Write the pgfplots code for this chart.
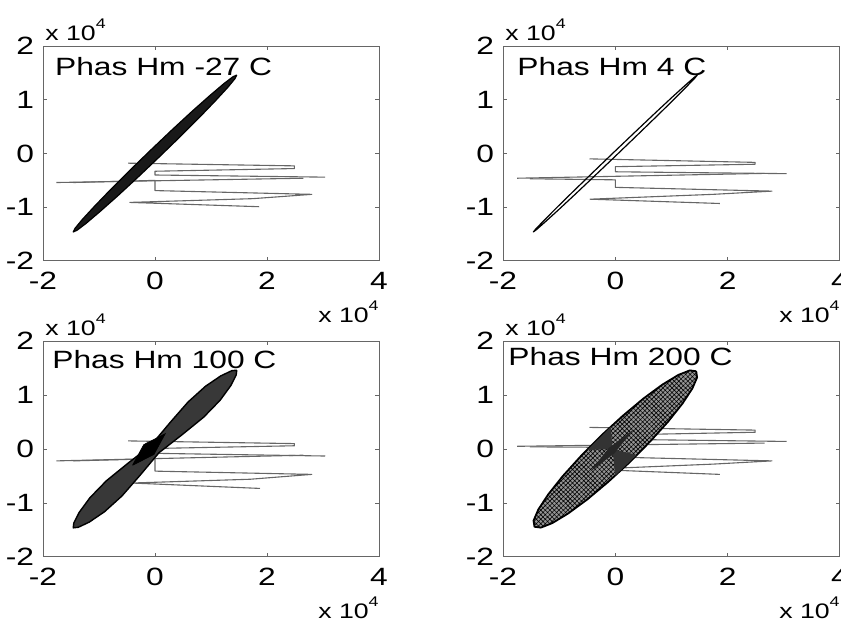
\documentclass[border=0pt]{standalone}
\usepackage{fontspec}
\setmainfont{Liberation Sans}[FakeStretch=1.27]
\usepackage{pgfplots}
\pgfplotsset{compat=1.18}
\usetikzlibrary{patterns.meta}
\pgfplotsset{
  mat/.style={
    scale only axis, width=168pt, height=107.5pt, anchor=south west,
    xmin=-2,xmax=4,ymin=-2,ymax=2,
    xtick={-2,0,2,4}, xticklabels={-2,0,2,4},
    ytick={-2,-1,0,1,2}, yticklabels={-2,-1,0,1,2},
    tick align=inside, major tick length=2pt,
    axis line style={black!60, line width=0.5pt},
    every tick/.style={black!60, line width=0.5pt},
    tick label style={font=\fontsize{12.5}{14}\selectfont, inner sep=0pt},
    xticklabel style={yshift=-5.5pt},
    yticklabel style={xshift=-4.25pt},
    clip=false,
  },
  lines/.style={black!60, line width=0.55pt, line join=round},
}
\newcommand{\xmult}{\node[anchor=base east, inner sep=0pt, font=\fontsize{10.5}{12}\selectfont] at (rel axis cs:1,0) [yshift=-30.75pt] {x 10\raisebox{6pt}{\fontsize{7}{8}\selectfont 4}};}
\newcommand{\ymult}{\node[anchor=base west, inner sep=0pt, font=\fontsize{10.5}{12}\selectfont] at (rel axis cs:0,1) [xshift=1pt, yshift=3pt] {x 10\raisebox{6pt}{\fontsize{7}{8}\selectfont 4}};}
\newcommand{\ttl}[3]{\node[anchor=base west, inner sep=0pt, font=\fontsize{12.5}{14}\selectfont] at (axis cs:#1,#2) {#3};}
\begin{document}
\begin{tikzpicture}
\useasboundingbox (0,0) rectangle (420.5pt,310.5pt);
% ---------- A : -27 C
\begin{axis}[mat, at={(21.5pt,180pt)}]
\addplot[lines] coordinates {(-0.48,-0.18) (2.49,-0.23) (2.49,-0.28) (0,-0.33) (0,-0.40) (3.04,-0.44)};
\addplot[lines] coordinates {(-1.76,-0.54) (2.65,-0.46)};
\addplot[lines] coordinates {(-1.46,-0.54) (0,-0.50) (0,-0.69) (2.80,-0.76) (1.75,-0.84) (-0.45,-0.91) (1.86,-0.99)};
\addplot[fill=black!90, draw=black, line width=0.6pt, line join=round] coordinates {
(1.46,1.46) (1.392,1.428) (1.229,1.299) (0.983,1.081) (0.669,0.791) (0.310,0.446) (-0.070,0.070) (-0.446,-0.310) (-0.791,-0.669) (-1.081,-0.983) (-1.299,-1.229) (-1.428,-1.392) (-1.46,-1.46) (-1.392,-1.428) (-1.229,-1.299) (-0.983,-1.081) (-0.669,-0.791) (-0.310,-0.446) (0.070,-0.070) (0.446,0.310) (0.791,0.669) (1.081,0.983) (1.299,1.229) (1.428,1.392) (1.46,1.46)};
\ttl{-1.79}{1.46}{Phas Hm -27 C}
\xmult \ymult
\end{axis}
% ---------- B : 4 C
\begin{axis}[mat, at={(251.5pt,180pt)}, width=168.5pt]
\addplot[lines] coordinates {(-0.46,-0.10) (2.49,-0.165) (2.49,-0.20) (0,-0.245) (0,-0.34) (3.05,-0.375)};
\addplot[lines] coordinates {(-1.75,-0.46) (2.66,-0.37)};
\addplot[lines] coordinates {(-1.52,-0.47) (0,-0.49) (0,-0.63) (2.79,-0.70) (1.74,-0.76) (-0.45,-0.85) (1.86,-0.93)};
\addplot[draw=black, line width=0.6pt, line join=round] coordinates {
(1.46,1.46) (1.404,1.416) (1.252,1.276) (1.014,1.050) (0.708,0.752) (0.354,0.402) (-0.025,0.025) (-0.402,-0.354) (-0.752,-0.708) (-1.050,-1.014) (-1.276,-1.252) (-1.416,-1.404) (-1.46,-1.46) (-1.404,-1.416) (-1.252,-1.276) (-1.014,-1.050) (-0.708,-0.752) (-0.354,-0.402) (0.025,-0.025) (0.402,0.354) (0.752,0.708) (1.050,1.014) (1.276,1.252) (1.416,1.404) (1.46,1.46)};
\ttl{-1.75}{1.46}{Phas Hm 4 C}
\xmult \ymult
\end{axis}
% ---------- C : 100 C
\begin{axis}[mat, at={(21.5pt,32pt)}, height=108pt]
\addplot[lines] coordinates {(-0.48,0.15) (2.49,0.10) (2.49,0.06) (0,0.01) (0,-0.08) (3.04,-0.13)};
\addplot[lines] coordinates {(-1.76,-0.22) (2.65,-0.115)};
\addplot[lines] coordinates {(-1.46,-0.22) (0,-0.18) (0,-0.41) (2.80,-0.47) (1.70,-0.56) (-0.42,-0.63) (1.875,-0.73)};
\addplot[fill=black!78, draw=black, line width=0.7pt, line join=round] coordinates {
(1.46,1.46) (1.370,1.450) (1.174,1.354) (0.902,1.162) (0.590,0.870) (0.268,0.488) (-0.07,0.07) (-0.488,-0.268) (-0.870,-0.590) (-1.162,-0.902) (-1.354,-1.174) (-1.450,-1.370) (-1.46,-1.46) (-1.370,-1.450) (-1.174,-1.354) (-0.902,-1.162) (-0.590,-0.870) (-0.268,-0.488) (0.07,-0.07) (0.488,0.268) (0.870,0.590) (1.162,0.902) (1.354,1.174) (1.450,1.370) (1.46,1.46)};
\addplot[fill=black, draw=black, line width=0.4pt] coordinates {(-0.40,-0.30) (-0.20,0.08) (0.18,0.28) (-0.02,-0.10) (-0.40,-0.30)};
\ttl{-1.84}{1.50}{Phas Hm 100 C}
\xmult \ymult
\end{axis}
% ---------- D : 200 C
\begin{axis}[mat, at={(251.5pt,32pt)}, width=168.5pt, height=108pt]
\addplot[lines] coordinates {(-0.46,0.40) (2.49,0.35) (2.49,0.31) (0,0.26) (0,0.18) (3.05,0.14)};
\addplot[lines] coordinates {(-1.75,0.05) (2.66,0.11)};
\addplot[lines] coordinates {(-1.52,0.04) (0,0.03) (0,-0.15) (2.79,-0.22) (1.74,-0.28) (-0.46,-0.375) (1.86,-0.47)};
\addplot[fill=black!42, draw=none] coordinates {
(1.44,1.44) (1.326,1.456) (1.122,1.372) (0.841,1.195) (0.503,0.937) (0.132,0.614) (-0.25,0.25) (-0.614,-0.132) (-0.937,-0.503) (-1.195,-0.841) (-1.372,-1.122) (-1.456,-1.326) (-1.44,-1.44) (-1.326,-1.456) (-1.122,-1.372) (-0.841,-1.195) (-0.503,-0.937) (-0.132,-0.614) (0.25,-0.25) (0.614,0.132) (0.937,0.503) (1.195,0.841) (1.372,1.122) (1.456,1.326) (1.44,1.44)};
\addplot[draw=black, line width=0.9pt, line join=round, pattern={Hatch[angle=45,distance=1.6pt,line width=0.3pt]}, pattern color=black] coordinates {
(1.44,1.44) (1.326,1.456) (1.122,1.372) (0.841,1.195) (0.503,0.937) (0.132,0.614) (-0.25,0.25) (-0.614,-0.132) (-0.937,-0.503) (-1.195,-0.841) (-1.372,-1.122) (-1.456,-1.326) (-1.44,-1.44) (-1.326,-1.456) (-1.122,-1.372) (-0.841,-1.195) (-0.503,-0.937) (-0.132,-0.614) (0.25,-0.25) (0.614,0.132) (0.937,0.503) (1.195,0.841) (1.372,1.122) (1.456,1.326) (1.44,1.44)};
\addplot[fill=black!80, draw=none] coordinates {(-0.05,0.0) (-0.50,-0.02) (-0.08,0.41) (-0.05,0.0)};
\addplot[fill=black!80, draw=none] coordinates {(-0.05,0.0) (0.38,-0.11) (0.0,-0.49) (-0.05,0.0)};
\addplot[fill=black!85, draw=none] coordinates {(-0.45,-0.42) (-0.115,0.02) (0.32,0.36) (-0.015,-0.08) (-0.45,-0.42)};
\ttl{-1.91}{1.54}{Phas Hm 200 C}
\xmult \ymult
\end{axis}
\end{tikzpicture}
\end{document}
